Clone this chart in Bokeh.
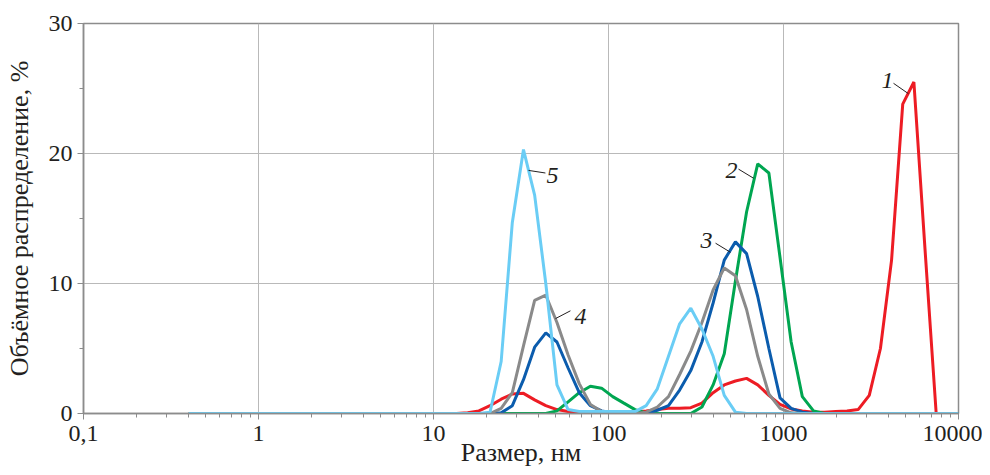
from bokeh.plotting import figure
from bokeh.models import FixedTicker, Range1d, Label, ColumnDataSource
from bokeh.embed import file_html
from bokeh.resources import INLINE

# particle size bins, nm
sizes = [0.4, 0.4632, 0.5365, 0.6213, 0.7195, 0.8332, 0.9649, 1.117, 1.294, 1.499,
         1.736, 2.01, 2.328, 2.696, 3.122, 3.615, 4.187, 4.849, 5.615, 6.503,
         7.531, 8.721, 10.1, 11.7, 13.54, 15.69, 18.17, 21.04, 24.36, 28.21,
         32.67, 37.84, 43.82, 50.75, 58.77, 68.06, 78.82, 91.28, 105.7, 122.4,
         141.8, 164.2, 190.1, 220.2, 255.0, 295.3, 342.0, 396.1, 458.7, 531.2,
         615.1, 712.4, 825.0, 955.4, 1106, 1281, 1484, 1718, 1990, 2305,
         2669, 3091, 3580, 4145, 4801, 5560, 6439, 7456, 8635, 10000]

Z22 = [0] * 22

# volume distribution, % (index 22 .. 69 after the zero head)
s1 = Z22 + [0, 0, 0, 0.05, 0.2, 0.6, 1.1, 1.5, 1.55, 1.05,
            0.6, 0.3, 0.15, 0.1, 0.1, 0.1, 0.1, 0.1, 0.15, 0.2,
            0.3, 0.4, 0.4, 0.45, 0.8, 1.6, 2.2, 2.5, 2.7, 2.2,
            1.4, 0.7, 0.35, 0.2, 0.1, 0.1, 0.15, 0.2, 0.3, 1.4,
            5.0, 11.8, 23.8, 25.5, 12.6, 0, 0, 0]
s2 = Z22 + [0, 0, 0, 0, 0, 0, 0, 0, 0, 0,
            0, 0.2, 0.9, 1.6, 2.1, 1.95, 1.3, 0.8, 0.3, 0.05,
            0, 0, 0, 0, 0.5, 2.2, 4.6, 10.2, 15.5, 19.2,
            18.5, 12.0, 5.5, 1.3, 0.2, 0, 0, 0, 0, 0,
            0, 0, 0, 0, 0, 0, 0, 0]
s3 = Z22 + [0, 0, 0, 0, 0, 0, 0.05, 0.6, 2.6, 5.1,
            6.2, 5.5, 3.5, 1.6, 0.6, 0.2, 0.05, 0, 0, 0,
            0.25, 0.6, 1.8, 3.3, 5.5, 8.5, 11.8, 13.2, 12.3, 9.0,
            5.0, 1.2, 0.4, 0.1, 0, 0, 0, 0, 0, 0,
            0, 0, 0, 0, 0, 0, 0, 0]
s4 = Z22 + [0, 0, 0, 0, 0, 0, 0.4, 1.6, 5.2, 8.7,
            9.1, 7.0, 4.5, 2.3, 0.7, 0.15, 0, 0, 0, 0.1,
            0.5, 1.3, 3.0, 4.8, 7.0, 9.5, 11.2, 10.6, 8.0, 4.4,
            1.5, 0.4, 0.05, 0, 0, 0, 0, 0, 0, 0,
            0, 0, 0, 0, 0, 0, 0, 0]
s5 = Z22 + [0, 0, 0, 0, 0, 0.1, 4.0, 14.7, 20.3, 16.8,
            10.0, 2.2, 0.3, 0.15, 0.15, 0.15, 0.15, 0.15, 0.15, 0.6,
            1.9, 4.4, 6.9, 8.1, 6.5, 4.4, 1.4, 0.1, 0, 0,
            0, 0, 0, 0, 0, 0, 0, 0, 0, 0,
            0, 0, 0, 0, 0, 0, 0, 0]

series = [s1, s2, s3, s4, s5]
colors = ["#ED1C24", "#00A651", "#0B5CAD", "#8A8A8A", "#6ACDF5"]

# curve number labels and leader lines (data units)
curve_names = ["1", "2", "3", "4", "5"]
name_x = [3930, 505, 363, 69.2, 47.9]
name_y = [25.6, 18.7, 13.3, 7.5, 18.3]
lead_x0 = [4253, 553, 409, 49.8, 34.9]
lead_y0 = [25.4, 18.8, 13.1, 7.3, 18.7]
lead_x1 = [5176, 674, 498, 60.6, 43.6]
lead_y1 = [24.6, 18.1, 12.4, 7.9, 18.5]

x_major = [0.1, 1, 10, 100, 1000, 10000]
x_labels = ["0,1", "1", "10", "100", "1000", "10000"]
y_major = [0, 10, 20, 30]
y_minor = [5, 15, 25]

FONT = "Liberation Serif"
AX = "#8c8c8c"
TXT = "#231f20"

p = figure(width=982, height=475, x_axis_type="log",
           x_range=Range1d(0.1, 10000), y_range=Range1d(0, 30),
           output_backend="svg", toolbar_location=None,
           min_border_left=83, min_border_right=24,
           min_border_top=23, min_border_bottom=62)

p.background_fill_color = "white"
p.border_fill_color = "white"
p.outline_line_color = AX
p.outline_line_width = 1.5

x_minor = [m * 10 ** e for e in range(-1, 4) for m in range(2, 10)]
p.xaxis.ticker = FixedTicker(ticks=x_major, minor_ticks=x_minor)
p.xaxis.major_label_overrides = {t: l for t, l in zip(x_major, x_labels)}
p.yaxis.ticker = FixedTicker(ticks=y_major, minor_ticks=y_minor)

for ax in (p.xaxis, p.yaxis):
    ax.axis_line_color = AX
    ax.axis_line_width = 1.5
    ax.major_tick_line_color = AX
    ax.minor_tick_line_color = AX
    ax.major_tick_in = 0
    ax.major_tick_out = 6
    ax.minor_tick_in = 0
    ax.minor_tick_out = 4
    ax.major_label_text_font = FONT
    ax.major_label_text_font_size = "24px"
    ax.major_label_text_color = TXT
    ax.axis_label_text_font = FONT
    ax.axis_label_text_font_size = "26px"
    ax.axis_label_text_font_style = "normal"
    ax.axis_label_text_color = TXT
p.xaxis.major_label_standoff = 6
p.yaxis.major_label_standoff = 5
p.xaxis.axis_label = "Размер, нм"
p.yaxis.axis_label = "Объёмное распределение, %"
p.xaxis.axis_label_standoff = -6
p.yaxis.axis_label_standoff = 12

p.xgrid.grid_line_color = "#b9b9b9"
p.ygrid.grid_line_color = "#b9b9b9"
p.xgrid.grid_line_width = 1
p.ygrid.grid_line_width = 1

for ys, c in zip(series, colors):
    p.line(sizes, ys, line_color=c, line_width=3)

lead = ColumnDataSource(dict(x0=lead_x0, y0=lead_y0, x1=lead_x1, y1=lead_y1))
p.segment(x0="x0", y0="y0", x1="x1", y1="y1", source=lead,
          line_color=TXT, line_width=1)

for nm, lx, ly in zip(curve_names, name_x, name_y):
    p.add_layout(Label(x=lx, y=ly, text=nm, text_font=FONT,
                       text_font_style="italic", text_font_size="24px",
                       text_align="center", text_baseline="middle",
                       text_color=TXT))

open("out.html", "w").write(file_html(p, INLINE))
